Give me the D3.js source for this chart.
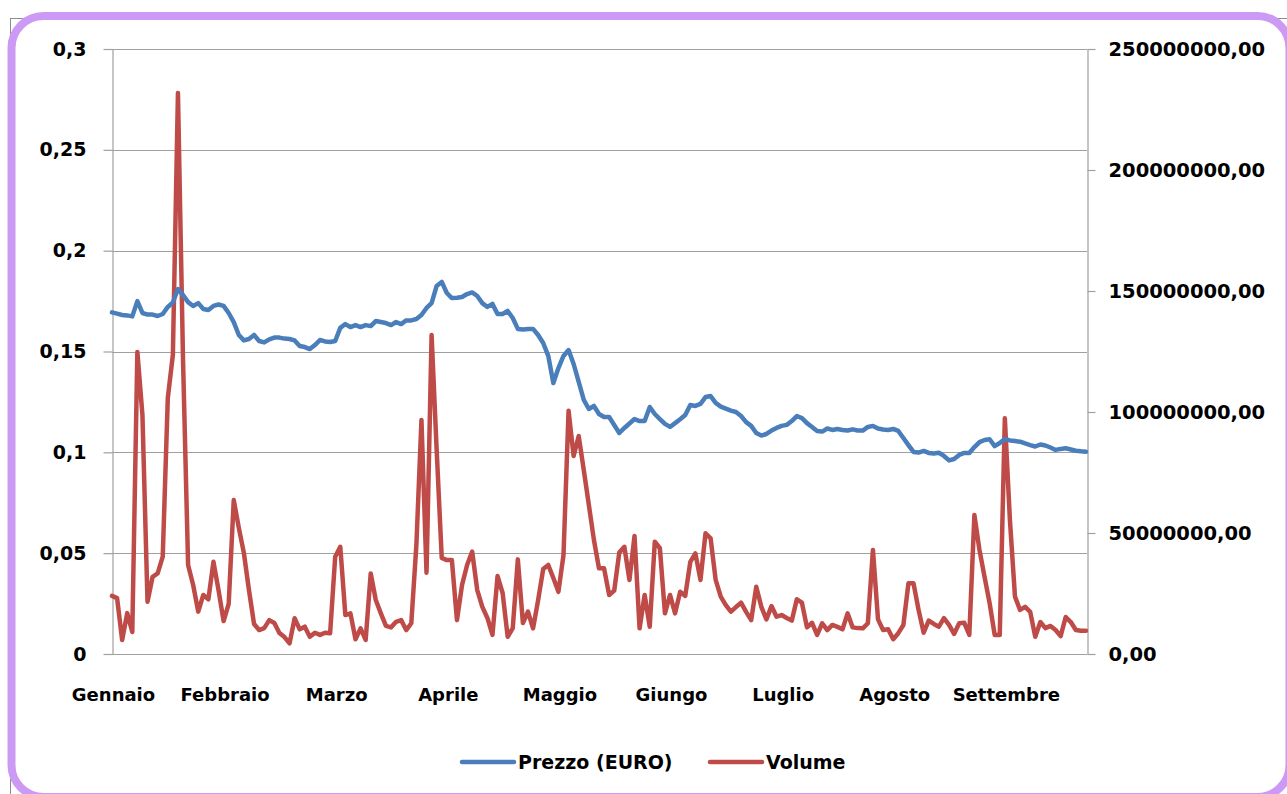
<!DOCTYPE html>
<html>
<head>
<meta charset="utf-8">
<script src="https://cdn.jsdelivr.net/npm/d3@7"></script>
<style>
  body { margin: 0; background: #fff; }
  svg { display: block; font-family: "DejaVu Sans", sans-serif; font-weight: bold; }
</style>
</head>
<body>
<div id="result"></div>
<script>
// daily closing price (EURO) and traded volume
const prices = [
  0.1694,0.1688,0.1681,0.1679,0.1674,0.1750,0.1691,0.1683,0.1683,0.1676,
  0.1686,0.1721,0.1743,0.1810,0.1780,0.1745,0.1726,0.1740,0.1711,0.1706,
  0.1726,0.1733,0.1726,0.1691,0.1646,0.1582,0.1555,0.1562,0.1582,0.1552,
  0.1545,0.1560,0.1569,0.1569,0.1564,0.1562,0.1555,0.1527,0.1522,0.1512,
  0.1532,0.1557,0.1550,0.1547,0.1552,0.1617,0.1636,0.1621,0.1631,0.1621,
  0.1631,0.1626,0.1651,0.1646,0.1641,0.1631,0.1646,0.1636,0.1654,0.1654,
  0.1661,0.1681,0.1716,0.1740,0.1825,0.1845,0.1790,0.1765,0.1767,0.1770,
  0.1785,0.1793,0.1775,0.1740,0.1721,0.1736,0.1686,0.1686,0.1701,0.1666,
  0.1612,0.1609,0.1612,0.1612,0.1582,0.1542,0.1478,0.1344,0.1418,0.1478,
  0.1507,0.1438,0.1349,0.1260,0.1215,0.1230,0.1190,0.1175,0.1175,0.1136,
  0.1096,0.1121,0.1143,0.1165,0.1155,0.1155,0.1225,0.1190,0.1165,0.1141,
  0.1126,0.1145,0.1164,0.1185,0.1235,0.1230,0.1240,0.1274,0.1279,0.1245,
  0.1227,0.1217,0.1207,0.1200,0.1180,0.1150,0.1131,0.1096,0.1083,0.1091,
  0.1108,0.1121,0.1131,0.1136,0.1155,0.1180,0.1170,0.1145,0.1126,0.1106,
  0.1103,0.1118,0.1111,0.1116,0.1111,0.1108,0.1114,0.1108,0.1108,0.1126,
  0.1131,0.1118,0.1113,0.1111,0.1116,0.1106,0.1071,0.1036,0.1002,0.0999,
  0.1007,0.0997,0.0994,0.0998,0.0982,0.0960,0.0967,0.0987,0.0997,0.0997,
  0.1026,0.1051,0.1061,0.1065,0.1031,0.1046,0.1066,0.1059,0.1056,0.1053,
  0.1044,0.1036,0.1029,0.1039,0.1034,0.1024,0.1012,0.1017,0.1020,0.1014,
  0.1008,0.1005,0.1003
];

// volume in millions
const volumesM = [
  24.0,23.1,5.8,16.9,9.1,124.8,98.8,21.6,31.9,33.3,
  40.2,105.8,123.6,231.8,121.5,36.8,28.5,17.5,24.4,22.6,
  38.1,26.4,13.6,20.7,63.6,52.1,41.7,26.4,12.4,9.9,
  10.7,14.0,12.8,8.7,7.0,4.4,14.8,10.2,11.3,7.1,
  8.8,7.9,8.8,8.6,40.2,44.3,16.1,16.8,6.1,10.6,
  5.8,33.3,22.3,16.8,11.6,11.0,13.3,14.0,9.9,12.7,
  45.0,96.7,33.6,131.8,84.3,39.7,38.8,38.8,14.0,28.5,
  36.8,42.3,26.4,19.5,14.9,7.9,32.2,25.2,7.1,10.7,
  39.1,12.8,17.5,10.6,22.3,35.1,36.8,31.4,25.7,40.9,
  100.5,81.8,90.1,76.0,61.6,47.1,35.4,35.4,24.4,26.2,
  41.9,44.3,30.6,48.8,10.6,24.4,11.3,46.4,43.7,16.8,
  24.4,16.8,25.7,24.0,38.1,41.6,30.6,49.9,47.8,30.6,
  23.7,20.2,17.5,19.4,21.2,17.4,14.0,27.8,19.5,14.3,
  19.8,15.4,16.1,14.9,13.8,22.6,21.2,11.0,12.9,7.9,
  12.7,9.9,12.0,11.2,10.2,16.8,11.0,10.7,10.6,12.7,
  43.0,14.3,9.9,10.2,6.1,8.6,12.0,29.2,29.2,18.2,
  8.8,13.8,12.4,11.3,14.8,12.0,8.3,12.7,12.9,7.9,
  57.4,43.0,31.9,21.0,7.9,7.9,97.4,55.4,23.7,18.2,
  19.5,17.4,7.1,13.2,10.7,11.6,9.9,7.4,15.3,13.2,
  9.9,9.6,9.6
];

const months = ['Gennaio', 'Febbraio', 'Marzo', 'Aprile', 'Maggio', 'Giungo', 'Luglio', 'Agosto', 'Settembre'];
const monthStart = [0, 22, 44, 66, 88, 110, 132, 154, 176];

const priceTicks = [0, 0.05, 0.1, 0.15, 0.2, 0.25, 0.3];
const volumeTicks = [0, 50e6, 100e6, 150e6, 200e6, 250e6];

const seriesNames = ['Prezzo (EURO)', 'Volume'];
const seriesColors = ['#4a7ebb', '#be4b48'];

const width = 1287, height = 794;
const plot = { left: 112, right: 1087, top: 49, bottom: 654 };
const GRID = '#a0a0a0';

const svg = d3.select('#result').append('svg')
  .attr('width', width)
  .attr('height', height);

// outer frame: thin gray chart border under the purple rounded box
svg.append('rect')
  .attr('x', 10.5).attr('y', 18.5)
  .attr('width', 1290).attr('height', 800)
  .attr('fill', 'none').attr('stroke', '#8c8c8c').attr('stroke-width', 1);

svg.append('rect')
  .attr('x', 11.5).attr('y', 16)
  .attr('width', 1278).attr('height', 781)
  .attr('rx', 32).attr('ry', 32)
  .attr('fill', '#fff')
  .attr('stroke', '#cc99f5').attr('stroke-width', 8);

const x = d3.scaleLinear().domain([0, prices.length - 1]).range([plot.left, plot.right - 1]);
const yLeft = d3.scaleLinear().domain([0, 0.3]).range([plot.bottom, plot.top]);
const yRight = d3.scaleLinear().domain([0, 250e6]).range([plot.bottom, plot.top]);

// gridlines
svg.append('g').selectAll('line')
  .data(priceTicks)
  .join('line')
  .attr('x1', plot.left).attr('x2', plot.right)
  .attr('y1', d => Math.round(yLeft(d)) + 0.5)
  .attr('y2', d => Math.round(yLeft(d)) + 0.5)
  .attr('stroke', GRID).attr('stroke-width', 1.2);

const leftAxis = svg.append('g')
  .attr('transform', `translate(${plot.left + 0.5},0)`)
  .call(d3.axisLeft(yLeft)
    .tickValues(priceTicks)
    .tickSize(9).tickSizeOuter(0).tickPadding(17)
    .tickFormat(d => String(+d.toFixed(2)).replace('.', ',')));

const rightAxis = svg.append('g')
  .attr('transform', `translate(${plot.right + 0.5},0)`)
  .call(d3.axisRight(yRight)
    .tickValues(volumeTicks)
    .tickSize(8).tickSizeOuter(0).tickPadding(13)
    .tickFormat(d => d3.format('.2f')(d).replace('.', ',')));

[leftAxis, rightAxis].forEach(function(ax) {
  ax.select('.domain').attr('stroke', GRID).attr('stroke-width', 1.2);
  ax.selectAll('.tick line').attr('stroke', GRID).attr('stroke-width', 1.2);
  ax.selectAll('.tick text')
    .attr('fill', '#000')
    .style('font-family', '"DejaVu Sans", sans-serif')
    .style('font-weight', 'bold');
});
leftAxis.selectAll('.tick text').style('font-size', '19px');
rightAxis.selectAll('.tick text').style('font-size', '19.5px');

// month labels
svg.append('g').selectAll('text')
  .data(months)
  .join('text')
  .attr('x', (d, i) => x(monthStart[i]) + 1.5)
  .attr('y', 701)
  .attr('text-anchor', 'middle')
  .style('font-size', '18px')
  .text(d => d);

// lines
const priceLine = d3.line()
  .x((d, i) => x(i))
  .y(d => yLeft(d));

const volumeLine = d3.line()
  .x((d, i) => x(i))
  .y(d => yRight(d * 1e6));

svg.append('path')
  .datum(volumesM)
  .attr('d', volumeLine)
  .attr('fill', 'none')
  .attr('stroke', seriesColors[1])
  .attr('stroke-width', 4.5)
  .attr('stroke-linejoin', 'round')
  .attr('stroke-linecap', 'round');

svg.append('path')
  .datum(prices)
  .attr('d', priceLine)
  .attr('fill', 'none')
  .attr('stroke', seriesColors[0])
  .attr('stroke-width', 4.5)
  .attr('stroke-linejoin', 'round')
  .attr('stroke-linecap', 'round');

// legend
const legendX = [462, 710];
const legend = svg.append('g').selectAll('g')
  .data(seriesNames)
  .join('g')
  .attr('transform', (d, i) => `translate(${legendX[i]},762)`);

legend.append('line')
  .attr('x1', 0).attr('x2', 52)
  .attr('stroke', (d, i) => seriesColors[i])
  .attr('stroke-width', 4.5)
  .attr('stroke-linecap', 'round');

legend.append('text')
  .attr('x', 56)
  .attr('y', 7)
  .style('font-size', '19px')
  .text(d => d);
</script>
</body>
</html>
